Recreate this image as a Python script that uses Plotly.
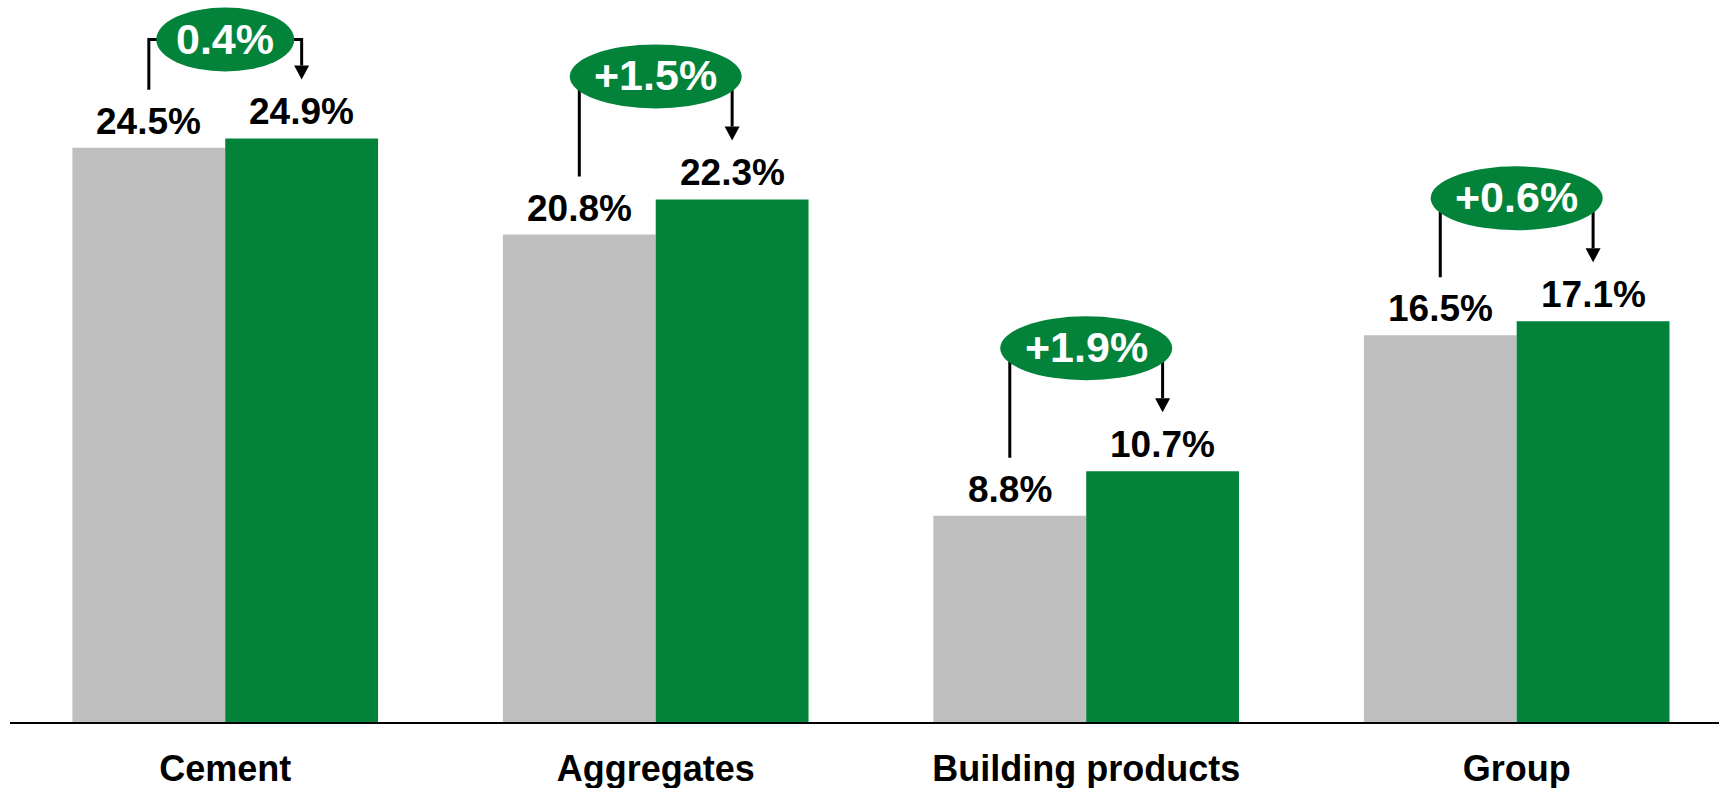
import plotly.graph_objects as go

categories = ["Cement", "Aggregates", "Building products", "Group"]
prior_values = [24.5, 20.8, 8.8, 16.5]
current_values = [24.9, 22.3, 10.7, 17.1]
change_labels = ["0.4%", "+1.5%", "+1.9%", "+0.6%"]

GRAY = "#BFBFBF"
GREEN = "#03833A"
FONT = "Liberation Sans, Arial, sans-serif"

W, H = 1719, 788
M_L, M_R, M_T, M_B = 10, 0, 0, 66
plot_h = H - M_T - M_B
Y_MAX = 30.81
px_per_unit = plot_h / Y_MAX
X_RANGE = [-0.5, 3.47]
px_per_cat = (W - M_L - M_R) / (X_RANGE[1] - X_RANGE[0])

BARGAP = 0.29
half = (1 - BARGAP) / 4  # offset of each bar centre from category centre


def px(v):
    return v / px_per_unit


fig = go.Figure()
fig.add_trace(go.Bar(x=categories, y=prior_values, marker_color=GRAY,
                     marker_line_width=0, name="Prior", hoverinfo="skip"))
fig.add_trace(go.Bar(x=categories, y=current_values, marker_color=GREEN,
                     marker_line_width=0, name="Current", hoverinfo="skip"))

annotations = []
shapes = []
ell_top_limit = Y_MAX - px(39.5)
for i, (p, c, lab) in enumerate(zip(prior_values, current_values, change_labels)):
    xl = i - half
    xr = i + half
    # value labels
    for xv, v in ((xl, p), (xr, c)):
        annotations.append(dict(x=xv, y=v, xref="x", yref="y", text=f"{v:.1f}%",
                                showarrow=False, yanchor="bottom", yshift=4,
                                font=dict(family=FONT, size=37, color="black", weight="bold")))
    y_ell = min(c + px(123), ell_top_limit)
    left_bottom = p + px(58)
    tip = c + px(59)
    head_h = px(14)
    head_w = 7.5 / px_per_cat
    line = dict(color="black", width=3)
    shapes.append(dict(type="path", xref="x", yref="y",
                       path=f"M {xl},{left_bottom} L {xl},{y_ell} L {xr},{y_ell} L {xr},{tip + head_h}",
                       line=line, fillcolor="rgba(0,0,0,0)"))
    shapes.append(dict(type="path", xref="x", yref="y",
                       path=f"M {xr - head_w},{tip + head_h} L {xr + head_w},{tip + head_h} L {xr},{tip} Z",
                       line=dict(color="black", width=0), fillcolor="black"))
    ew = 104 + 34 * (len(lab) - 3)
    shapes.append(dict(type="circle", xref="x", yref="y", xsizemode="pixel", ysizemode="pixel",
                       xanchor=i, yanchor=y_ell, x0=-ew / 2, x1=ew / 2, y0=-32, y1=32,
                       fillcolor=GREEN, line=dict(width=0)))
    annotations.append(dict(x=i, y=y_ell, xref="x", yref="y", text=lab, showarrow=False,
                            yanchor="middle", yshift=1,
                            font=dict(family=FONT, size=43, color="white", weight="bold")))

fig.update_layout(
    width=W, height=H,
    margin=dict(l=M_L, r=M_R, t=M_T, b=M_B, pad=0),
    barmode="group", bargap=BARGAP, bargroupgap=0,
    plot_bgcolor="white", paper_bgcolor="white",
    showlegend=False, hovermode=False,
    shapes=shapes, annotations=annotations,
    xaxis=dict(range=X_RANGE, showline=True, linecolor="black", linewidth=2,
               ticks="", showgrid=False, zeroline=False, fixedrange=True,
               tickfont=dict(family=FONT, size=36, color="black", weight="bold"),
               ticklabelstandoff=14),
    yaxis=dict(range=[0, Y_MAX], visible=False, showgrid=False, zeroline=False,
               fixedrange=True),
)

fig.write_html("out.html", config={"displayModeBar": False},
               post_script="document.body.style.margin='0px';document.body.style.overflow='hidden';")
